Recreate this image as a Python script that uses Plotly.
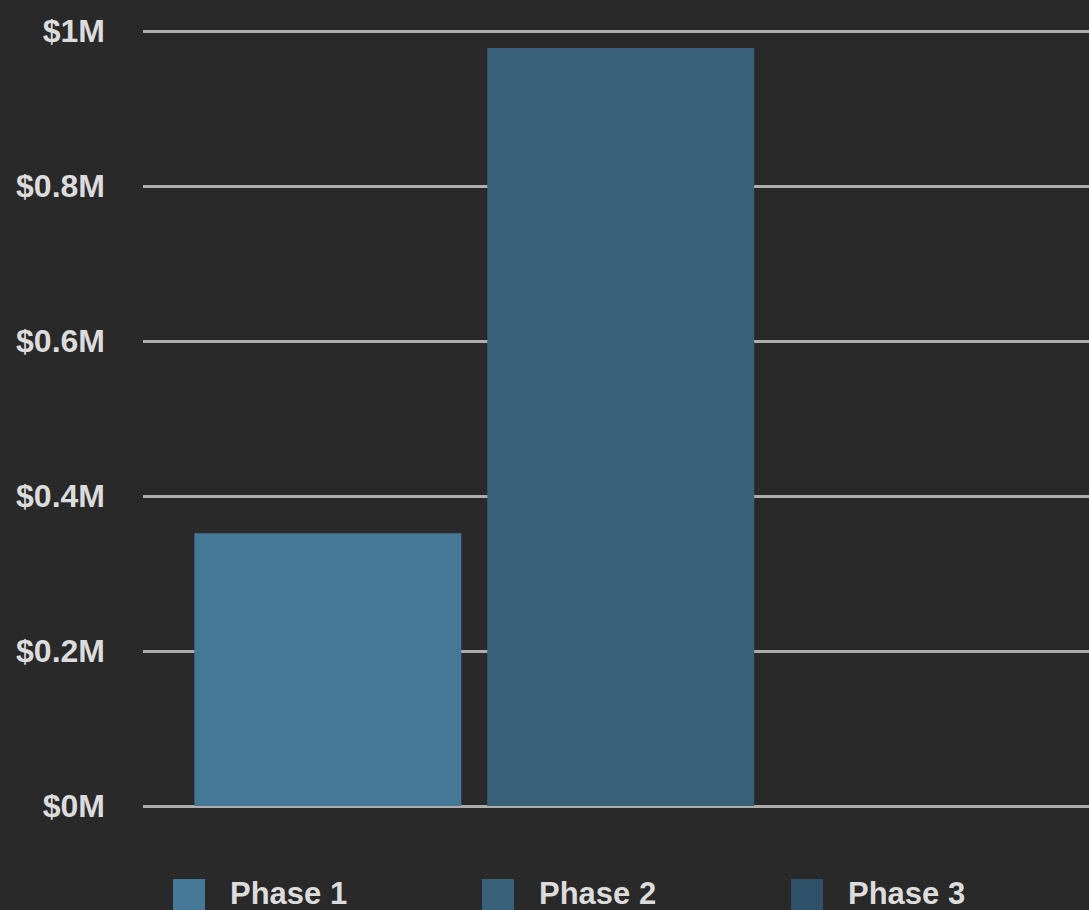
import plotly.graph_objects as go

# Budget per project phase (US dollars)
phases = ["Phase 1", "Phase 2", "Phase 3"]
budget = [352000, 978000, 0]
colors = ["#457796", "#386179", "#2e5069"]

tick_values = [0, 200000, 400000, 600000, 800000, 1000000]
tick_labels = ["$0M", "$0.2M", "$0.4M", "$0.6M", "$0.8M", "$1M"]

W, H = 1089, 910
M_L, M_R, M_T, M_B = 143, 0, 29, 104
BG = "#292929"
TEXT = "#dcdcdc"
GRID = "#adadad"
FONT = "Liberation Sans, Arial, sans-serif"

plot_w = W - M_L - M_R
plot_h = H - M_T - M_B
# pixels per dollar fixed so $1M sits 775 px above $0; a little head-room keeps the top gridline visible
y_top = 1000000 * plot_h / 775

fig = go.Figure()
for name, val, col in zip(phases, budget, colors):
    fig.add_trace(go.Bar(
        x=["Budget"], y=[val], name=name,
        marker=dict(color=col, line=dict(width=0)),
        showlegend=False,
        hovertemplate=name + ": $%{y:,.0f}<extra></extra>",
    ))

def px_x(px):
    return (px - M_L) / plot_w
def px_y(py):
    return (H - M_B - py) / plot_h

# Legend drawn as large colour swatches with labels under the plot
legend_left = [173, 482, 791]
for name, col, lx in zip(phases, colors, legend_left):
    fig.add_shape(type="rect", xref="paper", yref="paper",
                  x0=px_x(lx), x1=px_x(lx + 32), y0=px_y(879), y1=px_y(915),
                  fillcolor=col, line=dict(width=0), layer="above")
    fig.add_annotation(xref="paper", yref="paper", x=px_x(lx + 55), y=px_y(894),
                       text="<b>" + name + "</b>", showarrow=False,
                       xanchor="left", yanchor="middle",
                       font=dict(family=FONT, size=31, color=TEXT))

fig.update_layout(
    width=W, height=H,
    margin=dict(l=M_L, r=M_R, t=M_T, b=M_B, pad=0),
    paper_bgcolor=BG, plot_bgcolor=BG,
    barmode="group", bargap=0.071, bargroupgap=0.0887,
    font=dict(family=FONT, color=TEXT),
    xaxis=dict(visible=False, range=[-0.505, 0.495]),
    yaxis=dict(
        range=[0, y_top], tickvals=tick_values,
        ticktext=["<b>" + t + "</b>" for t in tick_labels],
        tickfont=dict(family=FONT, size=32, color=TEXT),
        showgrid=True, gridcolor=GRID, gridwidth=2.5,
        zeroline=True, zerolinecolor=GRID, zerolinewidth=2.5,
        showline=False, ticks="", ticklabelstandoff=37,
    ),
)

fig.write_html("out.html")
